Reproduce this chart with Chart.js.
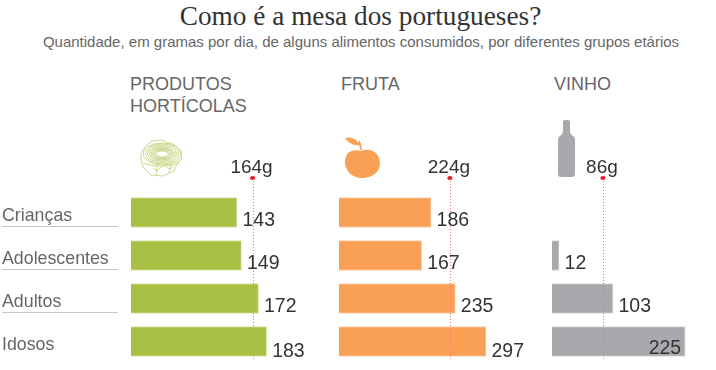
<!DOCTYPE html>
<html>
  <head>
    <meta charset="utf-8">
    <title>Como é a mesa dos portugueses?</title>
    <script src="https://cdn.jsdelivr.net/npm/chart.js"></script>
    <style>
      html, body {
        margin: 0;
        padding: 0;
        background-color: #ffffff;
      }

      #page {
        position: relative;
        width: 716px;
        height: 370px;
        overflow: hidden;
        font-family: "Liberation Sans", Arial, sans-serif;
      }

      #page > * {
        position: absolute;
      }

      h1 {
        margin: 0;
        left: 0;
        width: 721px;
        top: 1px;
        text-align: center;
        font: normal 27.3px/30px "Liberation Serif", serif;
        color: #333333;
      }

      .subtitle {
        left: 0;
        width: 722px;
        top: 33px;
        text-align: center;
        font-size: 15px;
        line-height: 18px;
        color: #666666;
      }

      .panel-title {
        top: 73px;
        font-size: 18px;
        line-height: 22px;
        color: #666666;
      }
    </style>
  </head>
  <body>
    <div id="page">
      <h1>Como é a mesa dos portugueses?</h1>
      <div class="subtitle">Quantidade, em gramas por dia, de alguns alimentos consumidos, por diferentes grupos etários</div>

      <div class="panel-title" style="left:130px">PRODUTOS<br>HORTÍCOLAS</div>
      <div class="panel-title" style="left:341px">FRUTA</div>
      <div class="panel-title" style="left:554px">VINHO</div>

      <canvas id="chartHorticolas" style="left:0;top:0"></canvas>
      <canvas id="chartFruta" style="left:339px;top:0"></canvas>
      <canvas id="chartVinho" style="left:552px;top:0"></canvas>

      <!-- icones -->
      <svg style="left:138px;top:138px" width="48" height="42" viewBox="0 0 48 42" fill="none" stroke="#b4c95f" stroke-width="0.7">
        <path d="M7 9 L14 3 L25 2 L27 4 L35 6 L43 13 L44 21 L40 24 L36 33 L25 38 L13 37 L5 29 L3 22 L3 15 Z"/>
        <ellipse cx="24" cy="16" rx="19" ry="11"/>
        <ellipse cx="24" cy="16" rx="16.5" ry="10"/>
        <ellipse cx="24" cy="16" rx="14.5" ry="8.5"/>
        <ellipse cx="24" cy="16" rx="12.5" ry="7.2"/>
        <ellipse cx="24" cy="16" rx="11" ry="6"/>
        <ellipse cx="24" cy="16" rx="9.5" ry="5"/>
        <ellipse cx="24" cy="16" rx="8" ry="4"/>
        <ellipse cx="24" cy="16" rx="6.5" ry="3"/>
        <path d="M5 25 Q24 32 42 24 M18 37 L19 28 M15 30 L19 33 L23 29 M31 35 L33 26 M28 29 L32 31 L37 27"/>
      </svg>
      <svg style="left:342px;top:136px" width="40" height="44" viewBox="0 0 40 44" fill="#f9a055">
        <path d="M3 2 Q11 0 17 7 L17 3 L19 8 L20 14 L18.5 14 L17 9 Q8 10 3 2 Z"/>
        <path d="M19 15 C26 12 37 14 38 27 C38 36 30 42 20 42 C10 42 3 35 3 26 C3 15 12 13 19 15 Z"/>
      </svg>
      <svg style="left:556px;top:118px" width="22" height="62" viewBox="0 0 22 62" fill="#a7a9ac">
        <path d="M7 4 Q7 2 9 2 L12 2 Q14 2 14 4 L14 13 Q14 16 17 18 Q19 19 19 22 L19 56 Q19 59 16 59 L5 59 Q2 59 2 56 L2 22 Q2 19 4 18 Q7 16 7 13 Z"/>
      </svg>
    </div>

    <script>
      const categories = ["Crianças", "Adolescentes", "Adultos", "Idosos"];
      const horticolas = [143, 149, 172, 183];
      const fruta = [186, 167, 235, 297];
      const vinho = [null, 12, 103, 225];
      const refHorticolas = 164;
      const refFruta = 224;
      const refVinho = 86;

      const chartTop = 191;
      const chartBottom = 7;
      const valueFont = '19.5px "Liberation Sans", Arial, sans-serif';

      // linha pontilhada com o ponto vermelho e o valor de referencia
      const refLinePlugin = {
        id: "refLine",
        afterDatasetsDraw(chart, args, opts) {
          const ctx = chart.ctx;
          const x = chart.scales.x.getPixelForValue(opts.value);
          ctx.save();
          ctx.strokeStyle = "#f0737c";
          ctx.lineWidth = 1;
          ctx.setLineDash([1, 2]);
          ctx.beginPath();
          ctx.moveTo(Math.round(x) + 0.5, 178);
          ctx.lineTo(Math.round(x) + 0.5, 360);
          ctx.stroke();
          ctx.fillStyle = "#ed1c24";
          ctx.beginPath();
          ctx.ellipse(x, 178, 2.6, 2, 0, 0, Math.PI * 2);
          ctx.fill();
          ctx.font = '19px "Liberation Sans", Arial, sans-serif';
          ctx.fillStyle = "#333333";
          ctx.textAlign = "center";
          ctx.textBaseline = "alphabetic";
          ctx.fillText(opts.value + "g", x - 1, 173);
          ctx.restore();
        },
      };

      // valores das barras, um pouco abaixo do centro
      const valueLabelPlugin = {
        id: "valueLabels",
        afterDraw(chart) {
          const ctx = chart.ctx;
          const meta = chart.getDatasetMeta(0);
          ctx.save();
          ctx.font = valueFont;
          ctx.fillStyle = "#333333";
          ctx.textBaseline = "alphabetic";
          chart.data.datasets[0].data.forEach((v, i) => {
            if (v === null) return;
            const bar = meta.data[i];
            const w = ctx.measureText(v).width;
            const drop = i === 3 ? 15 : 13;
            if (bar.x + 5.5 + w > chart.width) {
              ctx.fillText(v, bar.x - w - 4, bar.y + 12);
            } else {
              ctx.fillText(v, bar.x + 5.5, bar.y + drop);
            }
          });
          ctx.restore();
        },
      };

      // linhas por baixo dos nomes dos grupos
      const categoryRulePlugin = {
        id: "categoryRules",
        afterDraw(chart) {
          const ctx = chart.ctx;
          const y = chart.scales.y;
          if (!y.options.display) return;
          ctx.save();
          ctx.strokeStyle = "#c8c8c8";
          ctx.lineWidth = 1;
          categories.slice(0, 3).forEach((c, i) => {
            const py = Math.round(y.getPixelForValue(i)) + 13.5;
            ctx.beginPath();
            ctx.moveTo(2, py);
            ctx.lineTo(118, py);
            ctx.stroke();
          });
          ctx.restore();
        },
      };

      function createChart(id, width, height, values, color, edge, max, ref, showCategories) {
        const canvas = document.getElementById(id);
        canvas.width = width;
        canvas.height = height;
        return new Chart(canvas.getContext("2d"), {
          type: "bar",
          data: {
            labels: categories,
            datasets: [{
              data: values,
              backgroundColor: color,
              borderColor: edge,
              borderWidth: 1,
              barThickness: 30,
            }],
          },
          options: {
            indexAxis: "y",
            responsive: false,
            animation: false,
            layout: { padding: { top: chartTop, bottom: chartBottom, left: showCategories ? 2 : 0, right: 0 } },
            plugins: {
              legend: { display: false },
              tooltip: { enabled: false },
              refLine: { value: ref },
            },
            scales: {
              x: { display: false, min: 0, max: max },
              y: {
                display: showCategories,
                afterFit(scale) {
                  // sem folga extra, para as filas ficarem iguais nos tres paineis
                  scale.paddingTop = 0;
                  scale.paddingBottom = 0;
                  if (showCategories) scale.width = 129;
                },
                border: { display: false },
                grid: { display: false },
                ticks: {
                  crossAlign: "far",
                  padding: 0,
                  labelOffset: 4,
                  color: "#666666",
                  font: { family: '"Liberation Sans", Arial, sans-serif', size: 17.8 },
                },
              },
            },
          },
          plugins: [refLinePlugin, valueLabelPlugin, categoryRulePlugin],
        });
      }

      createChart("chartHorticolas", 320, 370, horticolas, "#a8c043", "#dbe5b0", 255, refHorticolas, true);
      createChart("chartFruta", 198, 370, fruta, "#f9a055", "#fcd0aa", 400, refFruta, false);
      createChart("chartVinho", 164, 370, vinho, "#a7a9ac", "#d8d9da", 277, refVinho, false);
    </script>
  </body>
</html>
